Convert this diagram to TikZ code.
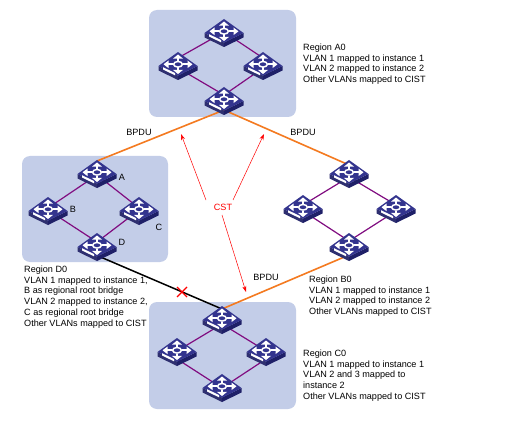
\documentclass[tikz,border=0pt]{standalone}
\usepackage{fontspec}
\setmainfont{Liberation Sans}
\usetikzlibrary{arrows.meta}
\definecolor{regionfill}{HTML}{C3CDE8}
\definecolor{swtop}{HTML}{33348E}
\definecolor{swleft}{HTML}{3A3B8C}
\definecolor{swright}{HTML}{1F2068}
\definecolor{purplelink}{HTML}{800C80}
\definecolor{orangelink}{HTML}{F47A20}
\newcommand\ringlinks[5]{%
  \draw[ring] ([yshift=-#2pt]#1t) -- ([yshift=-#3pt]#1l);
  \draw[ring] ([yshift=-#2pt]#1t) -- ([yshift=-#3pt]#1r);
  \draw[ring] ([yshift=-#5pt]#1b) -- ([yshift=-#4pt]#1l);
  \draw[ring] ([yshift=-#5pt]#1b) -- ([yshift=-#4pt]#1r);
}
\tikzset{
  x=1pt,y=-1pt,
  region/.style={fill=regionfill,draw=none,rounded corners=8pt},
  label text/.style={font=\fontsize{9.1}{10.8}\selectfont,anchor=north west,align=left,inner sep=0pt},
  short label/.style={font=\fontsize{9.1}{10.8}\selectfont,inner sep=0pt},
  ring/.style={draw=purplelink,line width=1.2pt},
  trunk/.style={draw=orangelink,line width=1.6pt},
  blocked/.style={draw=black,line width=1.5pt},
  cst/.style={draw=red,line width=0.5pt,-{Stealth[length=6pt,width=4pt]}},
  netswitch/.pic={
    \fill[swleft!80!black] (-19.5,2) -- (0,11.5) -- (0,16) -- (-19.5,6.5) -- cycle;
    \fill[swright] (19.5,2) -- (0,11.5) -- (0,16) -- (19.5,6.5) -- cycle;
    \fill[swtop] (-19.5,2) -- (0,-12) -- (19.5,2) -- (0,11.5) -- cycle;
    \fill[white] (-15,5.5) -- (-15,3.2) -- (-3,9) -- (-3,11.3) -- cycle;
    \begin{scope}[white,line width=2.2pt]
      \draw (-12,0.3) -- (-5,0.3); \draw (12,0.3) -- (5,0.3);
      \draw (0,-6.5) -- (0,-3);  \draw (0,7) -- (0,3.5);
      \draw[line width=1.5pt] (0,0.3) ellipse (4.4pt and 2.8pt);
      \fill (-14.5,0.3) -- (-9.5,-3.5) -- (-9.5,4.1) -- cycle;
      \fill (14.5,0.3) -- (9.5,-3.5) -- (9.5,4.1) -- cycle;
      \fill (0,-9.5) -- (-5,-5.4) -- (5,-5.4) -- cycle;
      \fill (0,10) -- (-5,5.9) -- (5,5.9) -- cycle;
    \end{scope}
  }
}
\begin{document}
\begin{tikzpicture}
\useasboundingbox (0,0) rectangle (506,425);
\fill[white] (0,0) rectangle (506,425);
% regions
\path[region] (149,10) rectangle (296,117);
\path[region] (22,156) rectangle (168,262);
\path[region] (149,302) rectangle (296,409);
% switch anchors
\coordinate (a0t) at (224,31); \coordinate (a0l) at (178,64);
\coordinate (a0r) at (263,64); \coordinate (a0b) at (224,99);
\coordinate (d0t) at (97,172); \coordinate (d0l) at (48,209);
\coordinate (d0r) at (139,209); \coordinate (d0b) at (97,245);
\coordinate (b0t) at (349,172); \coordinate (b0l) at (303,207);
\coordinate (b0r) at (396,207); \coordinate (b0b) at (349,245);
\coordinate (c0t) at (222,318); \coordinate (c0l) at (177,350);
\coordinate (c0r) at (266,350); \coordinate (c0b) at (222,386);
% rings
\ringlinks{a0}{1}{-6}{4}{-4}
\ringlinks{d0}{3}{-1}{1}{-3}
\ringlinks{b0}{5}{-2}{4}{-4}
\ringlinks{c0}{6}{1}{9}{2}
% links between regions
\draw[trunk] ([yshift=-11pt]a0b) -- ([yshift=11pt]d0t);
\draw[trunk] ([yshift=-11pt]a0b) -- ([yshift=7pt]b0t);
\draw[trunk] ([yshift=-10pt]b0b) -- ([yshift=9pt]c0t);
\draw[blocked] ([yshift=-10.5pt]d0b) -- ([yshift=9pt]c0t);
% switches
\foreach \s in {a0t,a0l,a0r,a0b,d0t,d0l,d0r,d0b,b0t,b0l,b0r,b0b,c0t,c0l,c0r,c0b}{
  \path (\s) pic {netswitch};
}
% red cross
\coordinate (xmark) at (182,292);
\draw[red,line width=1.4pt] ([shift={(-5,-5)}]xmark) -- ([shift={(5,5)}]xmark);
\draw[red,line width=1.4pt] ([shift={(-5,5)}]xmark) -- ([shift={(5,-5)}]xmark);
% CST
\node[short label,text=red] (cst) at (223,207) {CST};
\coordinate (cst1) at (181,134);
\coordinate (cst2) at (264,134);
\coordinate (cst3) at (246,292);
\draw[cst] (206,200) -- (cst1);
\draw[cst] (233,200) -- (cst2);
\draw[cst] (222,215) -- (cst3);
% BPDU
\node[short label] (bpdu1) at (139,132) {BPDU};
\node[short label] (bpdu2) at (303,132) {BPDU};
\node[short label] (bpdu3) at (266,277) {BPDU};
% switch names
\node[short label] (la) at (122,177) {A};
\node[short label] (lb) at (73,209) {B};
\node[short label] (lc) at (159,227) {C};
\node[short label] (ld) at (122,242) {D};
% region texts
\node[label text] (ta0) at (303,43.5) {Region A0\\VLAN 1 mapped to instance 1\\VLAN 2 mapped to instance 2\\Other VLANs mapped to CIST};
\node[label text] (td0) at (24,265.5) {Region D0\\VLAN 1 mapped to instance 1,\\B as regional root bridge\\VLAN 2 mapped to instance 2,\\C as regional root bridge\\Other VLANs mapped to CIST};
\node[label text] (tb0) at (309,275.5) {Region B0\\VLAN 1 mapped to instance 1\\VLAN 2 mapped to instance 2\\Other VLANs mapped to CIST};
\node[label text] (tc0) at (303,349.5) {Region C0\\VLAN 1 mapped to instance 1\\VLAN 2 and 3 mapped to\\instance 2\\Other VLANs mapped to CIST};
\end{tikzpicture}
\end{document}
